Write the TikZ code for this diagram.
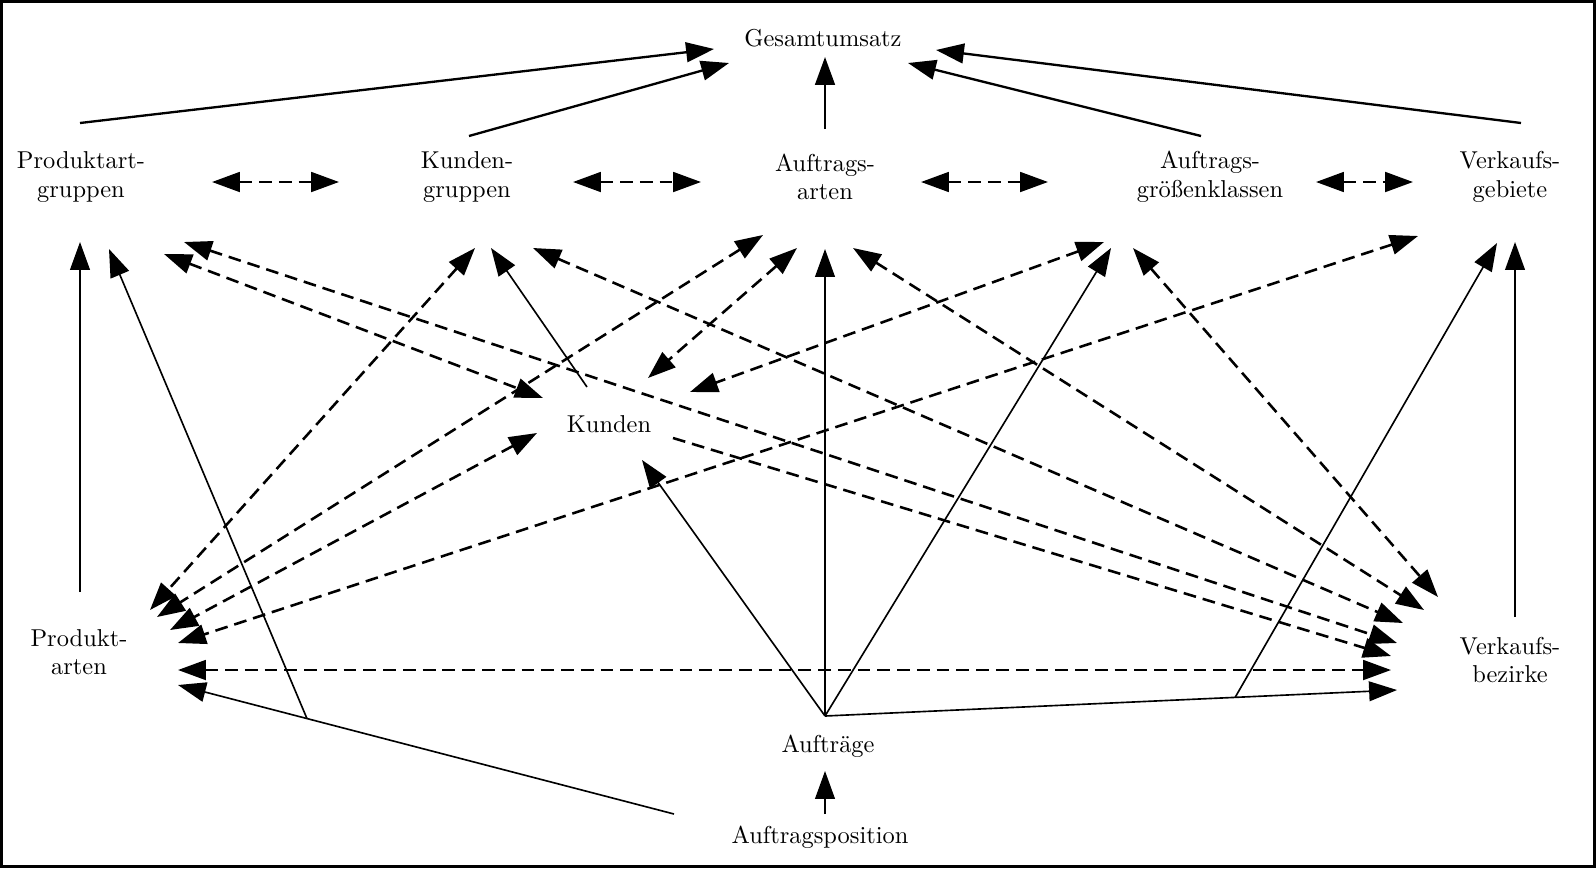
\documentclass[tikz,border=0pt]{standalone}
\usepackage{tikz}
\usetikzlibrary{arrows.meta, calc}

\begin{document}
\begin{tikzpicture}[x=0.43pt, y=-0.43pt]
    % Setup the styles for the labels and the arrows
    \tikzset{label style/.style={align=center,
                                 inner sep=0pt,
                                 font=\fontsize{10.5}{12.3}\selectfont},
             flow/.style={-{Triangle[length=12pt, width=8.5pt]},
                          line width=.7pt},
             link/.style={flow,
                          line width=1.1pt,
                          dash pattern=on 5.5pt off 3pt},
             twoway/.style={link,
                            {Triangle[length=12pt, width=8.5pt]}-{Triangle[length=12pt, width=8.5pt]}}}

    % Frame
    \useasboundingbox (0, 0) rectangle (1596, 868);
    \draw[line width=1.2pt] (1.5, 1.5) rectangle (1594.5, 866.5);

    % Draw the labels
    \node[label style] at (823, 38)   (gesamt)    {Gesamtumsatz};
    \node[label style] at (81, 177)   (pagruppen) {Produktart-\\gruppen};
    \node[label style] at (467, 177)  (kgruppen)  {Kunden-\\gruppen};
    \node[label style] at (825, 177)  (aarten)    {Auftrags-\\arten};
    \node[label style] at (1210, 177) (agroessen) {Auftrags-\\größenklassen};
    \node[label style] at (1510, 177) (vgebiete)  {Verkaufs-\\gebiete};
    \node[label style] at (609, 424)  (kunden)    {Kunden};
    \node[label style] at (79, 652)   (parten)    {Produkt-\\arten};
    \node[label style] at (1510, 660) (vbezirke)  {Verkaufs-\\bezirke};
    \node[label style] at (828, 746)  (auftraege) {Aufträge};
    \node[label style] at (820, 837)  (position)  {Auftragsposition};

    % Ends of the connectors
    \coordinate (gesamt-1) at (714, 49);
    \coordinate (gesamt-2) at (729, 63);
    \coordinate (gesamt-3) at (825, 57);
    \coordinate (gesamt-4) at (908, 63);
    \coordinate (gesamt-5) at (936, 50);

    \coordinate (pagruppen-n) at (80, 123);
    \coordinate (pagruppen-e) at (212, 182);
    \coordinate (pagruppen-1) at (80, 242);
    \coordinate (pagruppen-2) at (109, 249);
    \coordinate (pagruppen-3) at (164, 254);
    \coordinate (pagruppen-4) at (184, 242);

    \coordinate (kgruppen-n) at (469, 136);
    \coordinate (kgruppen-w) at (339, 182);
    \coordinate (kgruppen-e) at (573, 182);
    \coordinate (kgruppen-1) at (475, 248);
    \coordinate (kgruppen-2) at (491, 248);
    \coordinate (kgruppen-3) at (533, 248);

    \coordinate (aarten-n) at (825, 129);
    \coordinate (aarten-w) at (701, 182);
    \coordinate (aarten-e) at (921, 182);
    \coordinate (aarten-1) at (763, 235);
    \coordinate (aarten-2) at (797, 248);
    \coordinate (aarten-3) at (825, 249);
    \coordinate (aarten-4) at (853, 248);

    \coordinate (agroessen-n) at (1201, 136);
    \coordinate (agroessen-w) at (1048, 182);
    \coordinate (agroessen-e) at (1316, 182);
    \coordinate (agroessen-1) at (1104, 242);
    \coordinate (agroessen-2) at (1111, 248);
    \coordinate (agroessen-3) at (1133, 248);

    \coordinate (vgebiete-n) at (1521, 123);
    \coordinate (vgebiete-w) at (1413, 182);
    \coordinate (vgebiete-1) at (1418, 236);
    \coordinate (vgebiete-2) at (1497, 243);
    \coordinate (vgebiete-3) at (1515, 242);

    \coordinate (kunden-n) at (587, 387);
    \coordinate (kunden-1) at (543, 398);
    \coordinate (kunden-2) at (648, 378);
    \coordinate (kunden-3) at (690, 392);
    \coordinate (kunden-4) at (537, 433);
    \coordinate (kunden-5) at (642, 460);
    \coordinate (kunden-e) at (673, 438);

    \coordinate (parten-n) at (80, 592);
    \coordinate (parten-1) at (150, 610);
    \coordinate (parten-2) at (157, 617);
    \coordinate (parten-3) at (170, 630);
    \coordinate (parten-4) at (178, 643);
    \coordinate (parten-5) at (178, 670);
    \coordinate (parten-6) at (178, 685);

    \coordinate (vbezirke-n) at (1515, 617);
    \coordinate (vbezirke-1) at (1438, 597);
    \coordinate (vbezirke-2) at (1424, 610);
    \coordinate (vbezirke-3) at (1403, 623);
    \coordinate (vbezirke-4) at (1397, 643);
    \coordinate (vbezirke-5) at (1391, 656);
    \coordinate (vbezirke-6) at (1391, 670);
    \coordinate (vbezirke-7) at (1397, 690);

    \coordinate (auftraege-n) at (825, 716);
    \coordinate (auftraege-s) at (825, 771);
    \coordinate (position-n)  at (825, 814);
    \coordinate (position-w)  at (674, 814);

    \coordinate (join-parten)   at ($(position-w)!.74!(parten-6)$);
    \coordinate (join-vbezirke) at ($(auftraege-n)!.717!(vbezirke-7)$);

    % Connect everything to the total
    \draw[flow, line width=1pt] (pagruppen-n) -- (gesamt-1);
    \draw[flow, line width=1pt] (kgruppen-n)  -- (gesamt-2);
    \draw[flow, line width=1pt] (aarten-n)    -- (gesamt-3);
    \draw[flow, line width=1pt] (agroessen-n) -- (gesamt-4);
    \draw[flow, line width=1pt] (vgebiete-n)  -- (gesamt-5);

    % Neighbours in the upper row
    \draw[twoway] (pagruppen-e) -- (kgruppen-w);
    \draw[twoway] (kgruppen-e)  -- (aarten-w);
    \draw[twoway] (aarten-e)    -- (agroessen-w);
    \draw[twoway] (agroessen-e) -- (vgebiete-w);

    % Solid connectors from below
    \draw[flow] (parten-n)     -- (pagruppen-1);
    \draw[flow] (position-w)   -- (parten-6);
    \draw[flow] (join-parten)  -- (pagruppen-2);
    \draw[flow] (kunden-n)     -- (kgruppen-2);
    \draw[flow] (auftraege-n)  -- (kunden-5);
    \draw[flow] (auftraege-n)  -- (aarten-3);
    \draw[flow] (auftraege-n)  -- (agroessen-2);
    \draw[flow] (auftraege-n)  -- (vbezirke-7);
    \draw[flow] (join-vbezirke) -- (vgebiete-2);
    \draw[flow] (vbezirke-n)   -- (vgebiete-3);
    \draw[flow] (position-n)   -- (auftraege-s);

    % Dashed connectors
    \draw[twoway] (kgruppen-1)  -- (parten-1);
    \draw[twoway] (aarten-1)    -- (parten-2);
    \draw[twoway] (kunden-4)    -- (parten-3);
    \draw[twoway] (vgebiete-1)  -- (parten-4);
    \draw[twoway] (parten-5)    -- (vbezirke-6);
    \draw[twoway] (pagruppen-3) -- (kunden-1);
    \draw[twoway] (pagruppen-4) -- (vbezirke-4);
    \draw[twoway] (kgruppen-3)  -- (vbezirke-3);
    \draw[twoway] (aarten-2)    -- (kunden-2);
    \draw[twoway] (aarten-4)    -- (vbezirke-2);
    \draw[twoway] (agroessen-1) -- (kunden-3);
    \draw[twoway] (agroessen-3) -- (vbezirke-1);
    \draw[link]   (kunden-e)    -- (vbezirke-5);
\end{tikzpicture}
\end{document}
